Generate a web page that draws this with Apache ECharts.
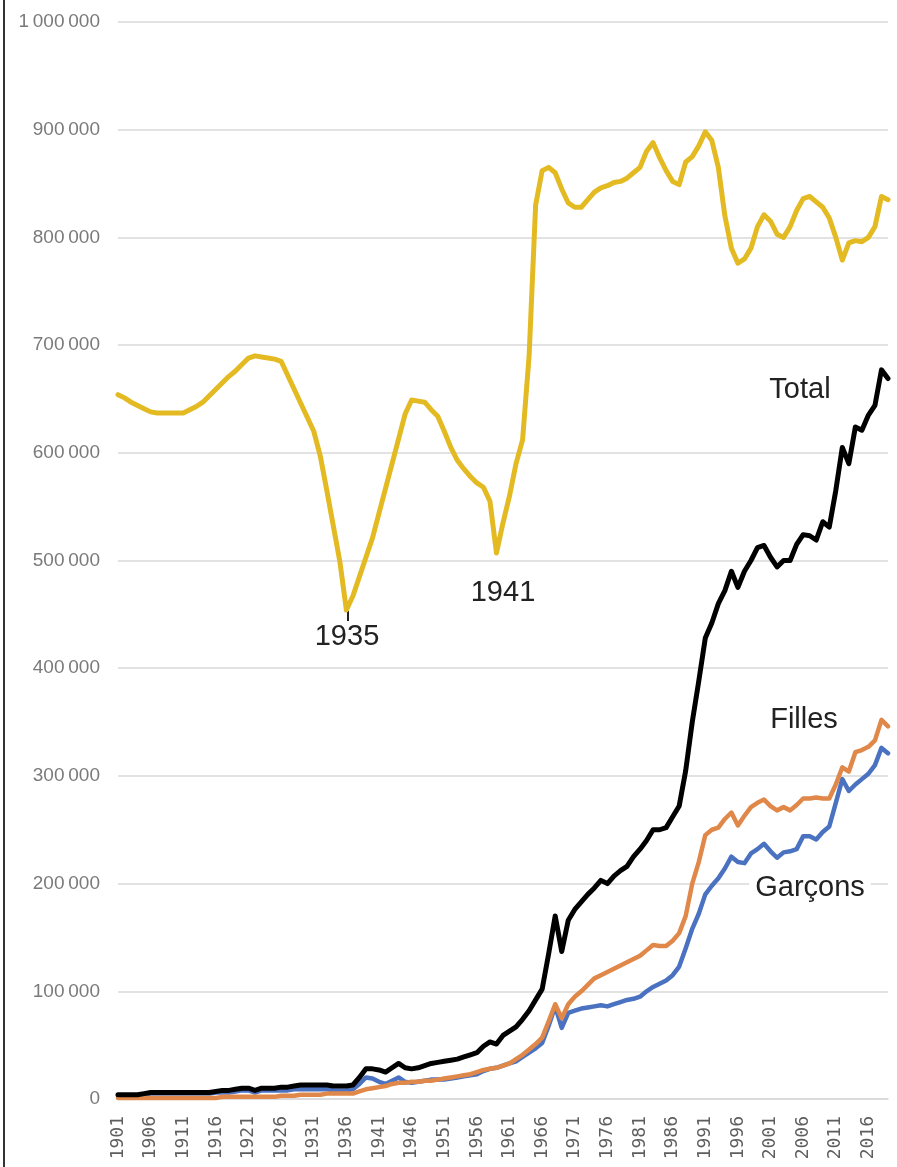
<!DOCTYPE html>
<html>
<head>
<meta charset="utf-8">
<script src="https://cdn.jsdelivr.net/npm/echarts@6/dist/echarts.min.js"></script>
<style>
  html, body { margin: 0; padding: 0; background: #fff; }
  #chart { width: 897px; height: 1167px; }
</style>
</head>
<body>
<div id="chart"></div>
<script>
// années 1901 -> 2019
const years = [];
for (let y = 1901; y <= 2019; y++) years.push(String(y));

// valeurs en milliers
const generation = [
  654, 651, 647, 644, 641, 638, 637, 637, 637, 637,
  637, 640, 643, 647, 653, 659, 665, 671, 676, 682,
  688, 690, 689, 688, 687, 685, 672, 659, 646, 633,
  620, 597, 565, 532, 499, 454, 467, 485, 503, 521,
  544, 567, 590, 613, 636, 649, 648, 647, 640, 634,
  620, 605, 593, 585, 578, 572, 568, 555, 507, 535,
  560, 590, 612, 690, 830, 862, 865, 860, 845, 832,
  828, 828, 835, 842, 846, 848, 851, 852, 855, 860,
  865, 880, 888, 874, 862, 852, 849, 870, 875, 885,
  898, 890, 865, 820, 790, 776, 780, 790, 810, 821,
  815, 803, 800, 810, 825, 836, 838, 833, 828, 818,
  800, 779, 795, 797, 796, 800, 810, 838, 835
];

const total = [
  4, 4, 4, 4, 5, 6, 6, 6, 6, 6,
  6, 6, 6, 6, 6, 7, 8, 8, 9, 10,
  10, 8, 10, 10, 10, 11, 11, 12, 13, 13,
  13, 13, 13, 12, 12, 12, 13, 20, 28, 28,
  27, 25, 29, 33, 29, 28, 29, 31, 33, 34,
  35, 36, 37, 39, 41, 43, 49, 53, 51, 59,
  63, 67, 74, 82, 92, 102, 135, 170, 137, 166,
  176, 183, 190, 196, 203, 200, 207, 212, 216, 225,
  232, 240, 250, 250, 252, 262, 272, 305, 350, 388,
  428, 442, 460, 472, 490, 475, 490, 500, 512, 514,
  503, 494, 500, 500, 515, 524, 523, 519, 536, 531,
  565, 605, 590, 624, 621, 635, 644, 677, 669
];

const filles = [
  1, 1, 1, 1, 1, 1, 1, 1, 1, 1,
  1, 1, 1, 1, 1, 1, 2, 2, 2, 2,
  2, 2, 2, 2, 2, 3, 3, 3, 4, 4,
  4, 4, 5, 5, 5, 5, 5, 7, 9, 10,
  11, 12, 14, 15, 15, 16, 16, 17, 17, 18,
  19, 20, 21, 22, 23, 25, 27, 28, 29, 31,
  33, 37, 41, 46, 51, 57, 72, 88, 75, 88,
  95, 100, 106, 112, 115, 118, 121, 124, 127, 130,
  133, 138, 143, 142, 142, 147, 154, 170, 200, 220,
  245, 250, 252, 260, 266, 254, 263, 271, 275, 278,
  272, 268, 271, 268, 273, 279, 279, 280, 279, 279,
  292, 308, 304, 322, 324, 327, 333, 352, 346
];

const garcons = [
  3, 3, 3, 3, 4, 5, 5, 5, 5, 5,
  5, 5, 5, 5, 5, 6, 6, 6, 7, 8,
  8, 6, 8, 8, 8, 8, 8, 9, 9, 9,
  9, 9, 9, 8, 8, 8, 9, 14, 20, 19,
  16, 14, 17, 20, 16, 15, 16, 17, 18, 18,
  18, 19, 20, 21, 22, 23, 26, 28, 29, 31,
  33, 35, 39, 43, 47, 52, 68, 86, 66, 80,
  82, 84, 85, 86, 87, 86, 88, 90, 92, 93,
  95, 100, 104, 107, 110, 115, 123, 140, 158, 172,
  190, 198, 205, 214, 225, 220, 219, 228, 232, 237,
  230, 224, 229, 230, 232, 244, 244, 241, 248, 253,
  275, 297, 286, 292, 297, 302, 310, 326, 321
];

const UNIT = 1000;
const toUnits = arr => arr.map(v => v * UNIT);

function fmt(v) {
  return String(v).replace(/\B(?=(\d{3})+(?!\d))/g, '\u2009');
}

const chart = echarts.init(document.getElementById('chart'));

function line(name, data, color, width, z) {
  return {
    name: name,
    type: 'line',
    data: toUnits(data),
    symbol: 'none',
    z: z,
    lineStyle: { color: color, width: width, join: 'round', cap: 'round' },
    emphasis: { disabled: true }
  };
}

const textFont = '29px "Liberation Sans", Arial, sans-serif';

chart.setOption({
  animation: false,
  backgroundColor: '#fff',
  grid: { left: 118, right: 9, top: 22, bottom: 68 },
  xAxis: {
    type: 'category',
    data: years,
    boundaryGap: false,
    axisLine: { show: true, lineStyle: { color: '#d9d9d9', width: 1.5 } },
    axisTick: { show: false },
    axisLabel: {
      interval: 4,
      rotate: 90,
      margin: 17,
      color: '#5e5e5e',
      fontSize: 18,
      fontFamily: '"DejaVu Sans Mono", monospace'
    },
    splitLine: { show: false }
  },
  yAxis: {
    type: 'value',
    min: 0,
    max: 1000000,
    interval: 100000,
    axisLine: { show: false },
    axisTick: { show: false },
    axisLabel: {
      margin: 18,
      color: '#7a7a7a',
      fontSize: 19,
      fontFamily: '"Liberation Sans", Arial, sans-serif',
      formatter: fmt
    },
    splitLine: { lineStyle: { color: '#d9d9d9', width: 1.5 } }
  },
  series: [
    line('Garçons', garcons, '#4a72c0', 4.5, 2),
    line('Filles', filles, '#e0884a', 4.5, 3),
    line('Total', total, '#000000', 5, 4),
    line('Génération', generation, '#e3ba22', 5, 5)
  ],
  graphic: [
    // bord gauche
    { type: 'rect', left: 3, top: 0, shape: { width: 2, height: 1167 }, style: { fill: '#333' }, silent: true },
    { type: 'text', x: 800, y: 390, style: { text: 'Total', font: textFont, fill: '#222', align: 'center', verticalAlign: 'middle' } },
    { type: 'text', x: 804, y: 720, style: { text: 'Filles', font: textFont, fill: '#222', align: 'center', verticalAlign: 'middle' } },
    { type: 'text', x: 810, y: 888, z: 10, style: { text: 'Garçons', font: textFont, fill: '#222', align: 'center', verticalAlign: 'middle', backgroundColor: '#fff', padding: [0, 6] } },
    { type: 'text', x: 347, y: 637, style: { text: '1935', font: textFont, fill: '#222', align: 'center', verticalAlign: 'middle' } },
    { type: 'line', shape: { x1: 348, y1: 611, x2: 348, y2: 621 }, style: { stroke: '#222', lineWidth: 2 } },
    { type: 'text', x: 503, y: 593, style: { text: '1941', font: textFont, fill: '#222', align: 'center', verticalAlign: 'middle' } }
  ]
});
</script>
</body>
</html>
